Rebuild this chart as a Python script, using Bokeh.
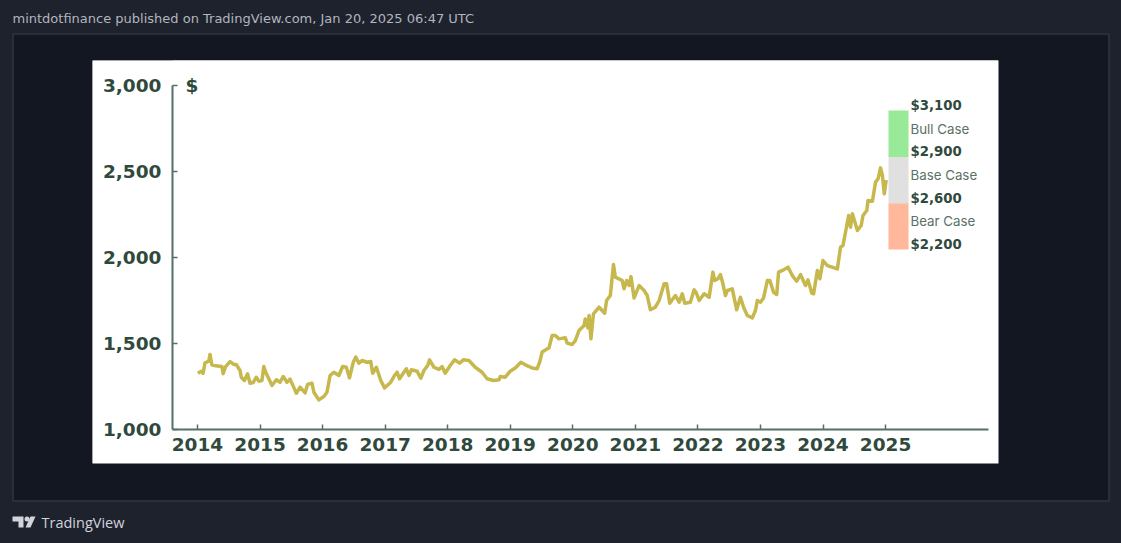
from bokeh.plotting import figure
from bokeh.models import Label, FixedTicker, NumeralTickFormatter, BasicTickFormatter
from bokeh.layouts import column
from bokeh.core.properties import value
from bokeh.embed import file_html
from bokeh.resources import INLINE

years = [2014.005,2014.06,2014.09,2014.12,2014.18,2014.20,2014.23,2014.29,2014.39,2014.41,2014.45,2014.52,2014.58,2014.62,2014.68,2014.70,2014.75,2014.80,2014.84,2014.89,2014.94,2014.98,
2015.03,2015.06,2015.09,2015.14,2015.19,2015.26,2015.32,2015.37,2015.43,2015.48,2015.55,2015.58,2015.64,2015.72,2015.76,2015.83,2015.86,2015.94,
2016.02,2016.07,2016.12,2016.18,2016.26,2016.32,2016.38,2016.43,2016.49,2016.53,2016.58,2016.63,2016.71,2016.77,2016.80,2016.86,2016.93,2016.99,
2017.09,2017.15,2017.19,2017.23,2017.30,2017.34,2017.38,2017.42,2017.51,2017.57,2017.62,2017.68,2017.71,2017.78,2017.86,2017.91,2017.96,
2018.04,2018.11,2018.19,2018.25,2018.34,2018.44,2018.55,2018.63,2018.73,2018.82,2018.84,2018.92,
2019.00,2019.08,2019.17,2019.24,2019.35,2019.43,2019.47,2019.51,2019.62,2019.67,2019.72,2019.78,2019.88,2019.91,2019.99,
2020.04,2020.10,2020.18,2020.20,2020.24,2020.26,2020.29,2020.33,2020.42,2020.51,2020.54,2020.60,2020.65,2020.68,2020.79,2020.82,2020.86,2020.90,2020.93,2020.98,
2021.06,2021.14,2021.19,2021.24,2021.32,2021.38,2021.46,2021.50,2021.55,2021.64,2021.70,2021.75,2021.79,2021.88,2021.94,2021.97,
2022.02,2022.10,2022.18,2022.24,2022.27,2022.32,2022.36,2022.40,2022.44,2022.47,2022.55,2022.62,2022.68,2022.73,2022.79,2022.87,2022.92,2022.95,
2023.00,2023.05,2023.11,2023.15,2023.21,2023.26,2023.29,2023.37,2023.44,2023.51,2023.58,2023.64,2023.72,2023.76,2023.82,2023.85,2023.91,2023.95,
2024.00,2024.07,2024.23,2024.28,2024.32,2024.38,2024.41,2024.44,2024.47,2024.55,2024.61,2024.64,2024.70,2024.72,2024.79,2024.84,2024.88,2024.92,2024.95,2024.98,2025.01]
prices = [1327,1339,1327,1388,1397,1436,1376,1370,1366,1324,1366,1395,1378,1378,1343,1304,1285,1324,1269,1273,1304,1281,
1285,1366,1333,1295,1256,1289,1275,1308,1275,1293,1236,1211,1246,1213,1262,1269,1217,1172,
1192,1217,1314,1333,1314,1366,1362,1300,1391,1421,1386,1401,1391,1395,1327,1362,1285,1242,
1275,1314,1333,1295,1333,1353,1314,1347,1339,1298,1343,1372,1405,1362,1349,1366,1327,
1372,1405,1386,1405,1401,1362,1333,1295,1285,1289,1308,1304,
1339,1358,1391,1376,1358,1353,1391,1450,1475,1547,1547,1527,1533,1502,1494,
1517,1576,1605,1643,1591,1663,1527,1672,1711,1676,1750,1779,1959,1886,1866,1818,1866,1837,1889,1765,
1837,1808,1779,1696,1711,1750,1847,1847,1734,1779,1740,1789,1734,1740,1812,1798,
1750,1789,1769,1915,1866,1876,1901,1847,1779,1808,1818,1696,1769,1711,1663,1649,1692,1750,
1740,1765,1866,1866,1798,1785,1915,1928,1944,1895,1862,1901,1837,1870,1793,1789,1924,1876,
1982,1953,1934,2060,2070,2186,2244,2176,2254,2157,2186,2244,2273,2331,2327,2438,2457,2521,2477,2370,2451]

x_ticks = list(range(2014, 2026))
y_ticks = [1000, 1500, 2000, 2500, 3000]
case_edges = [2855, 2585, 2315, 2047]
case_colors = ["#98e998", "#e0e0e0", "#ffb89b"]
case_texts = ["$3,100", "Bull Case", "$2,900", "Base Case", "$2,600", "Bear Case", "$2,200"]
header_text = "mintdotfinance published on TradingView.com, Jan 20, 2025 06:47 UTC"
brand_text = "TradingView"

PAGE_W, PAGE_H = 1121, 543
WL, WR, WT, WB = 92, 998, 60, 463      # white chart panel in window pixels
FL, FB = 172, 429                      # frame left and bottom
PX_PER_YEAR = 62.55
PX_PER_USD = 344 / 2000
X0 = 2014 - (197 - FL) / PX_PER_YEAR
X1 = X0 + (WR - FL) / PX_PER_YEAR
Y1 = 1000 + (FB - WT) / PX_PER_USD

INK = "#2f4a3c"
SOFT = "#5b7166"
AXIS = "#55706a"

# ---- page backdrop: frame fills the whole window, one data unit = one pixel
bg = figure(width=PAGE_W, height=PAGE_H, output_backend="svg", toolbar_location=None,
            x_range=(0, PAGE_W), y_range=(PAGE_H, 0), min_border=0,
            x_axis_location=None, y_axis_location=None)
bg.frame_align = False
bg.grid.visible = False
bg.outline_line_color = None
bg.background_fill_color = "#1e222d"
bg.border_fill_color = "#1e222d"
bg.quad(left=[12.5], right=[1108.5], top=[33.5], bottom=[500.5],
        fill_color="#131722", line_color="#2a2e39", line_width=2)
bg.quad(left=[WL], right=[WR], top=[WT], bottom=[WB], fill_color="#ffffff", line_color=None)
bg.text([12], [18], text=[header_text], text_color="#b2b5be", text_font=value("DejaVu Sans"),
        text_font_size="13px", text_baseline="middle")
bg.text([41], [522], text=[brand_text], text_color="#d1d4dc", text_font=value("Open Sans"),
        text_font_size="14.5px", text_baseline="middle")
bg.patches(xs=[[12, 23, 23, 18, 18, 12], [30, 35, 30, 25]],
           ys=[[516, 516, 527, 527, 521, 521], [516, 516, 527, 527]],
           fill_color="#d1d4dc", line_color=None)
bg.circle(x=[26.5], y=[518.5], radius=2.5, fill_color="#d1d4dc", line_color=None)

# ---- chart
p = figure(width=WR - WL, height=WB - WT, output_backend="svg", toolbar_location=None,
           x_range=(X0, X1), y_range=(1000, Y1),
           min_border_left=FL - WL, min_border_right=0, min_border_top=0,
           min_border_bottom=WB - FB)
p.frame_align = False
p.margin = (-(PAGE_H - WT), 0, 0, WL)
p.border_fill_color = "#ffffff"
p.background_fill_color = "#ffffff"
p.outline_line_color = None
p.grid.visible = False

for axis, ticks in ((p.xaxis, x_ticks), (p.yaxis, y_ticks)):
    axis.ticker = FixedTicker(ticks=ticks)
    axis.axis_line_color = AXIS
    axis.axis_line_width = 2
    axis.major_tick_line_color = AXIS
    axis.major_tick_line_width = 1.5
    axis.major_tick_in = 5
    axis.major_tick_out = 0
    axis.minor_tick_line_color = None
    axis.major_label_text_color = INK
    axis.major_label_text_font = "DejaVu Sans"
    axis.major_label_text_font_style = "bold"
    axis.major_label_text_font_size = "18.5px"
p.xaxis.formatter = BasicTickFormatter(use_scientific=False)
p.yaxis.formatter = NumeralTickFormatter(format="0,0")
p.xaxis.major_label_standoff = 8
p.yaxis.major_label_standoff = 11
p.xaxis.bounds = (X0, X0 + (988 - FL) / PX_PER_YEAR)
p.yaxis.bounds = (1000, 3000)

p.line(years, prices, line_color="#c7b84e", line_width=3.5, line_join="round")

bar_left = X0 + (888 - FL) / PX_PER_YEAR
bar_right = X0 + (908 - FL) / PX_PER_YEAR
p.quad(left=[bar_left] * 3, right=[bar_right] * 3, top=case_edges[:-1], bottom=case_edges[1:],
       fill_color=case_colors, line_color=None)


def label(px, py, text, color, size, font, style="normal"):
    p.add_layout(Label(x=X0 + (px - FL) / PX_PER_YEAR, y=1000 + (FB - py) / PX_PER_USD,
                       text=text, text_color=color, text_font_size=size, text_font=font,
                       text_font_style=style, text_baseline="middle", text_align="left"))

label(185, 85, "$", INK, "18.5px", "DejaVu Sans", "bold")
for i, t in enumerate(case_texts):
    py = 105 + i * 23.17
    if i % 2 == 0:
        label(910, py, t, INK, "13.3px", "DejaVu Sans", "bold")
    else:
        label(910, py, t, SOFT, "13.3px", "Inter")

page = column(bg, p, spacing=0)
html = file_html(page, INLINE)
html = html.replace("</head>", "<style>html,body{background:#1e222d;overflow:hidden;}</style></head>", 1)
open("out.html", "w").write(html)
